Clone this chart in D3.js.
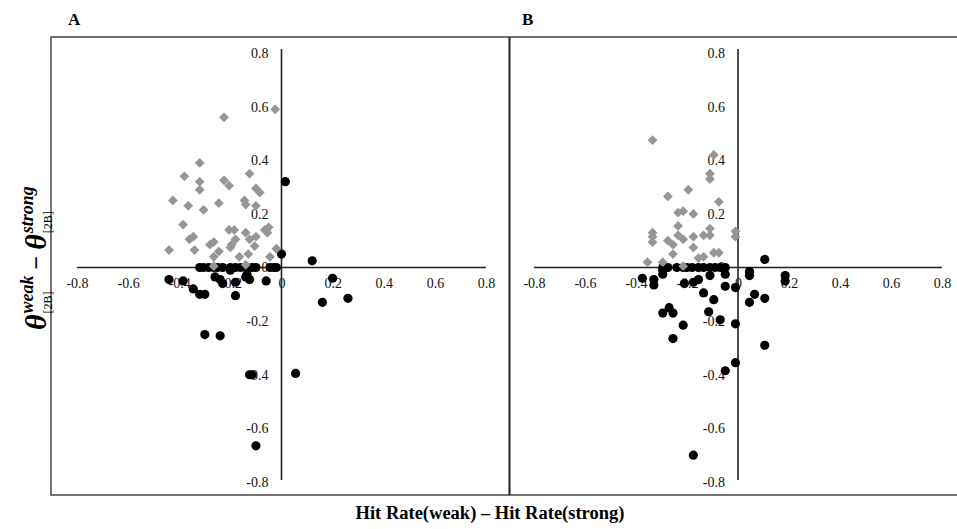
<!DOCTYPE html>
<html><head><meta charset="utf-8">
<script src="https://cdn.jsdelivr.net/npm/d3@7"></script>
<style>body{margin:0;background:#fff}svg{display:block}</style>
</head><body><svg id="c" width="957" height="529"></svg>
<script>
const tickValues = [-0.8,-0.6,-0.4,-0.2,0,0.2,0.4,0.6,0.8];
const tickLabels = ["-0.8","-0.6","-0.4","-0.2","0","0.2","0.4","0.6","0.8"];
const panelLabels = ["A","B"];
const xTitle = "Hit Rate(weak) \u2013 Hit Rate(strong)";

const aDiamonds = [[-0.32,0.39],[-0.38,0.34],[-0.32,0.32],[-0.32,0.29],[-0.225,0.325],[-0.205,0.305],[-0.125,0.35],[-0.10,0.295],[-0.085,0.28],[-0.425,0.25],[-0.365,0.23],[-0.305,0.215],[-0.245,0.24],[-0.145,0.25],[-0.14,0.235],[-0.10,0.23],[-0.385,0.16],[-0.36,0.105],[-0.345,0.115],[-0.44,0.065],[-0.34,0.065],[-0.28,0.085],[-0.265,0.095],[-0.265,0.04],[-0.245,0.06],[-0.205,0.14],[-0.185,0.14],[-0.195,0.085],[-0.18,0.105],[-0.20,0.075],[-0.165,0.04],[-0.14,0.13],[-0.125,0.105],[-0.10,0.115],[-0.105,0.08],[-0.065,0.14],[-0.05,0.15],[-0.055,0.13],[-0.02,0.07],[-0.13,0.05],[-0.225,0.56],[-0.025,0.59],[-0.265,0.005],[-0.14,0.01],[-0.045,0.04]];
const aCircles = [[-0.32,0],[-0.305,0],[-0.285,0],[-0.265,0],[-0.25,0],[-0.23,0],[-0.20,0],[-0.18,0],[-0.16,0],[-0.135,0],[-0.115,0],[-0.10,0],[-0.045,0],[-0.03,0],[-0.02,0],[-0.44,-0.045],[-0.385,-0.05],[-0.345,-0.08],[-0.32,-0.10],[-0.30,-0.10],[-0.26,-0.035],[-0.24,-0.045],[-0.23,-0.06],[-0.18,-0.055],[-0.18,-0.105],[-0.20,-0.01],[-0.14,-0.035],[-0.125,-0.045],[-0.135,-0.025],[-0.06,-0.05],[0.12,0.025],[0.2,-0.04],[0.16,-0.13],[0.26,-0.115],[-0.30,-0.25],[-0.24,-0.255],[-0.125,-0.40],[-0.115,-0.40],[0.055,-0.395],[-0.10,-0.665],[0.015,0.32],[0.0,0.05]];
const bDiamonds = [[-0.335,0.475],[-0.095,0.42],[-0.11,0.35],[-0.11,0.33],[-0.275,0.265],[-0.195,0.29],[-0.075,0.245],[-0.235,0.205],[-0.215,0.21],[-0.175,0.20],[-0.235,0.155],[-0.335,0.13],[-0.335,0.115],[-0.335,0.095],[-0.11,0.145],[-0.135,0.12],[-0.11,0.12],[-0.235,0.12],[-0.215,0.105],[-0.175,0.115],[-0.275,0.10],[-0.255,0.085],[-0.255,0.05],[-0.175,0.075],[-0.01,0.135],[-0.01,0.115],[-0.095,0.055],[-0.075,0.055],[-0.155,0.035],[-0.135,0.04],[-0.355,0.02],[-0.295,0.02],[-0.215,0.005]];
const bCircles = [[-0.295,0],[-0.275,0],[-0.24,0],[-0.215,0],[-0.20,0],[-0.18,0],[-0.155,0],[-0.135,0],[-0.11,0],[-0.09,0],[-0.07,0],[-0.05,0],[-0.295,-0.01],[-0.375,-0.04],[-0.33,-0.045],[-0.33,-0.065],[-0.295,-0.025],[-0.21,-0.06],[-0.175,-0.055],[-0.155,-0.045],[-0.11,-0.03],[-0.05,-0.025],[-0.05,-0.07],[-0.01,-0.075],[0.045,-0.015],[0.045,-0.03],[0.185,-0.03],[0.185,-0.05],[-0.135,-0.095],[-0.095,-0.12],[0.065,-0.10],[0.045,-0.13],[0.105,-0.115],[0.105,0.03],[-0.27,-0.15],[-0.295,-0.17],[-0.255,-0.17],[-0.115,-0.165],[-0.07,-0.195],[-0.01,-0.21],[-0.215,-0.215],[-0.255,-0.265],[0.105,-0.29],[-0.01,-0.355],[-0.05,-0.385],[-0.175,-0.70]];

const svg = d3.select("#c");
const serif = "'Liberation Serif','DejaVu Serif',serif";

// frame
svg.append("rect").attr("x",51).attr("y",37).attr("width",920).attr("height",458)
  .attr("fill","none").attr("stroke","#444").attr("stroke-width",1.5);
svg.append("line").attr("x1",509.5).attr("x2",509.5).attr("y1",37).attr("y2",495)
  .attr("stroke","#222").attr("stroke-width",2);

const panels = [
  {label:panelLabels[0], lx:68, xr:[77,486], dia:aDiamonds, cir:aCircles},
  {label:panelLabels[1], lx:522, xr:[534,942], dia:bDiamonds, cir:bCircles}
];
const y = d3.scaleLinear().domain([-0.8,0.8]).range([482,53]);
const diamond = "M0,-4.9L4.9,0L0,4.9L-4.9,0Z";

panels.forEach(p => {
  const x = d3.scaleLinear().domain([-0.8,0.8]).range(p.xr);
  const g = svg.append("g");
  svg.append("text").attr("x",p.lx).attr("y",25).attr("font-family",serif)
    .attr("font-weight","bold").attr("font-size",17).text(p.label);
  const fmt = i => tickLabels[i];
  g.append("g").attr("transform",`translate(0,${y(0)+5})`)
    .call(d3.axisBottom(x).tickValues(tickValues).tickFormat((d,i)=>fmt(i)).tickSize(0).tickPadding(6))
    .call(s=>{s.select(".domain").remove();s.selectAll("text").attr("font-family",serif).attr("font-size",14).attr("fill","#111");});
  g.append("g").attr("transform",`translate(${x(0)-8},0)`)
    .call(d3.axisLeft(y).tickValues(tickValues).tickFormat((d,i)=>fmt(i)).tickSize(0).tickPadding(5))
    .call(s=>{s.select(".domain").remove();s.selectAll("text").attr("font-family",serif).attr("font-size",14).attr("fill","#111");});
  g.append("line").attr("x1",x(-0.8)).attr("x2",x(0.8)).attr("y1",y(0)).attr("y2",y(0))
    .attr("stroke","#222").attr("stroke-width",1.6);
  g.append("line").attr("x1",x(0)).attr("x2",x(0)).attr("y1",y(0.8)-4).attr("y2",y(-0.8)-2)
    .attr("stroke","#222").attr("stroke-width",1.6);
  g.selectAll("circle.c").data(p.cir).join("circle").attr("class","c")
    .attr("cx",d=>x(d[0])).attr("cy",d=>y(d[1])).attr("r",4.6).attr("fill","#000");
  g.selectAll("path.d").data(p.dia).join("path").attr("class","d")
    .attr("transform",d=>`translate(${x(d[0])},${y(d[1])})`).attr("d",diamond).attr("fill","#969696");
});

// x title
svg.append("text").attr("x",490).attr("y",519).attr("text-anchor","middle")
  .attr("font-family",serif).attr("font-weight","bold").attr("font-size",18.5).text(xTitle);

// y title
const yt = svg.append("g").attr("transform","translate(46,330) rotate(-90)");
let cx = 0;
function term(sup){
  const th = yt.append("text").attr("x",cx).attr("y",0).attr("font-family",serif)
    .attr("font-style","italic").attr("font-weight","bold").attr("font-size",30).text("\u03B8");
  cx += th.node().getComputedTextLength() + 1;
  const s = yt.append("text").attr("x",cx).attr("y",-13).attr("font-family",serif)
    .attr("font-style","italic").attr("font-weight","bold").attr("font-size",18).text(sup);
  const b = yt.append("text").attr("x",cx).attr("y",6).attr("font-family",serif)
    .attr("font-size",12).text("[2B]");
  cx += Math.max(s.node().getComputedTextLength(), b.node().getComputedTextLength());
}
term("weak");
cx += 6;
const m = yt.append("text").attr("x",cx).attr("y",-2).attr("font-family",serif)
  .attr("font-weight","bold").attr("font-size",24).text("\u2212");
cx += m.node().getComputedTextLength() + 6;
term("strong");
</script></body></html>
